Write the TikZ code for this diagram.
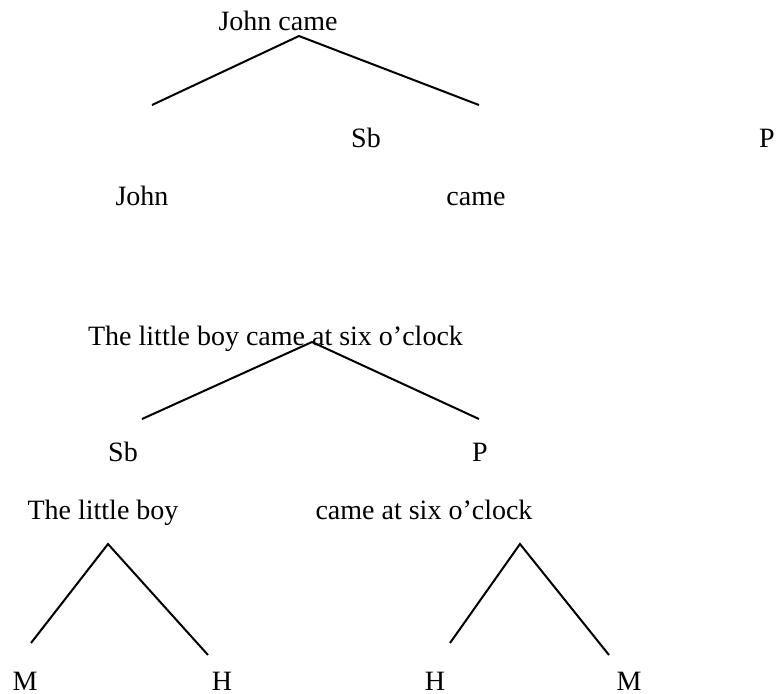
\documentclass[tikz,border=0pt]{standalone}
\usepackage{fontspec}
\setmainfont{Liberation Serif}
\usetikzlibrary{positioning}
\tikzset{word/.style={rectangle, inner sep=0pt, anchor=base,
font=\fontsize{14}{14}\selectfont},
branch/.style={color=black, line width=1pt}}

\begin{document}
\begin{tikzpicture}[x=0.5pt,y=-0.5pt]
  \useasboundingbox (0,0) rectangle (783,693);

  % John came
  \node (whole1) [word] at (278,30) {John came};
  \coordinate (top1) at (299,36);
  \coordinate (left1) at (152,105);
  \coordinate (right1) at (479,105);
  \node (sb1) [word] at (366,147) {Sb};
  \node (p1) [word] at (767,147) {P};
  \node (john) [word] at (142,205) {John};
  \node (came) [word] at (476,205) {came};
  \draw [branch] (left1) -- (top1) -- (right1);

  % The little boy came at six o'clock
  \node (whole2) [word] at (275.5,345) {The little boy came at six o'clock};
  \coordinate (top2) at (312,342);
  \coordinate (left2) at (142,419);
  \coordinate (right2) at (479,419);
  \node (sb2) [word] at (123,461) {Sb};
  \node (p2) [word] at (480,461) {P};
  \node (boy) [word] at (103,519) {The little boy};
  \node (came2) [word] at (424,519) {came at six o'clock};
  \draw [branch] (left2) -- (top2) -- (right2);

  \coordinate (top3) at (108,544);
  \coordinate (left3) at (31,643);
  \coordinate (right3) at (208,655);
  \draw [branch] (left3) -- (top3) -- (right3);
  \node (m1) [word] at (25,690) {M};
  \node (h1) [word] at (222,690) {H};

  \coordinate (top4) at (520,544);
  \coordinate (left4) at (450,643);
  \coordinate (right4) at (609,655);
  \draw [branch] (left4) -- (top4) -- (right4);
  \node (h2) [word] at (435,690) {H};
  \node (m2) [word] at (629,690) {M};
\end{tikzpicture}
\end{document}
